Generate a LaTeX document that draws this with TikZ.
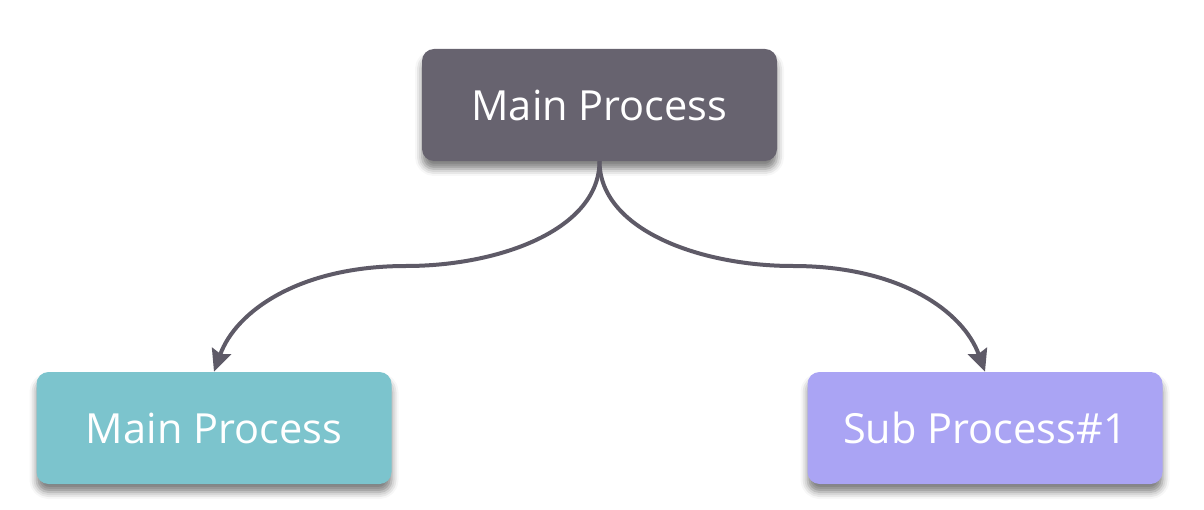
\documentclass[tikz,border=0pt]{standalone}
\usepackage{fontspec}
\setmainfont{Open Sans}
\usetikzlibrary{arrows.meta,shadows.blur}
\definecolor{topc}{HTML}{67636F}
\definecolor{tealc}{HTML}{7CC4CD}
\definecolor{lavc}{HTML}{AAA4F4}
\definecolor{linec}{HTML}{5E5A67}
\tikzset{
  box/.style={rounded corners=12pt, minimum width=355pt, minimum height=112pt,
    inner sep=0pt, text=white, font=\fontsize{41.5}{45}\selectfont,
    blur shadow={shadow xshift=0pt, shadow yshift=-8pt, shadow blur radius=7pt, shadow opacity=50}},
  conn/.style={draw=linec, line width=4pt, -{Stealth[length=22pt,width=20pt,inset=3pt]}}
}
\begin{document}
\begin{tikzpicture}[x=1pt,y=-1pt]
\useasboundingbox (0,0) rectangle (1204,510);
\node[box, fill=topc] (top) at (599.5,105) {Main Process};
\node[box, fill=tealc] (left) at (214,428) {Main Process};
\node[box, fill=lavc] (right) at (985,428) {Sub Process\#1};
\coordinate (midL) at (406,266);
\coordinate (midR) at (793,266);
\draw[conn] (top.south) .. controls +(0,68) and +(94,0) .. (midL)
  .. controls +(-106,0) and +(22,-61) .. (left.north);
\draw[conn] (top.south) .. controls +(0,68) and +(-94,0) .. (midR)
  .. controls +(106,0) and +(-22,-61) .. (right.north);
\end{tikzpicture}
\end{document}
